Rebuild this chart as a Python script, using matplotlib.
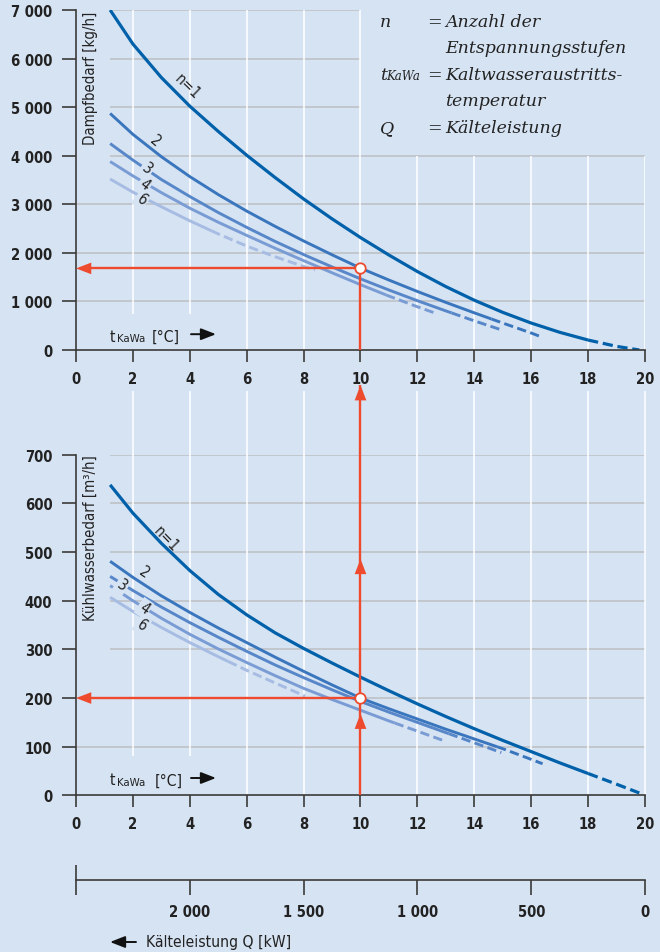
import os
import matplotlib
matplotlib.use('Agg')
import matplotlib.pyplot as plt
from matplotlib import font_manager as fm
from matplotlib.font_manager import FontProperties
import numpy as np

W, H, DPI = 660, 953, 100

# ---------------- data ----------------
x_ticks = [0, 2, 4, 6, 8, 10, 12, 14, 16, 18, 20]
steam_ticks = [0, 1000, 2000, 3000, 4000, 5000, 6000, 7000]
steam_labels = ["0", "1 000", "2 000", "3 000", "4 000", "5 000", "6 000", "7 000"]
cool_ticks = [0, 100, 200, 300, 400, 500, 600, 700]
cool_labels = ["0", "100", "200", "300", "400", "500", "600", "700"]
q_ticks = [2000, 1500, 1000, 500, 0]
q_labels = ["2 000", "1 500", "1 000", "500", "0"]
q_max = 2500  # Q at t = 0

# Dampfbedarf [kg/h]
t_n1 = [1.2, 2, 3, 4, 5, 6, 7, 8, 9, 10, 11, 12, 13, 14, 15, 16, 17, 18, 19, 19.8]
steam_n1 = [7000, 6300, 5610, 5020, 4500, 4010, 3550, 3110, 2700, 2315, 1955, 1615, 1305, 1025, 775, 555, 365, 205, 75, 0]
t_n2 = [1.2, 2, 3, 4, 5, 6, 7, 8, 9, 10, 11, 12, 13, 14, 15, 16, 16.4]
steam_n2 = [4870, 4440, 3980, 3570, 3200, 2860, 2545, 2245, 1960, 1685, 1440, 1205, 980, 765, 555, 350, 260]
t_n3 = [1.2, 2, 3, 4, 5, 6, 7, 8, 9, 10, 11, 12, 13, 14, 14.95]
steam_n3 = [4250, 3910, 3510, 3160, 2830, 2525, 2235, 1965, 1710, 1465, 1235, 1015, 805, 600, 415]
t_n4 = [1.2, 2, 3, 4, 5, 6, 7, 8, 9, 10, 11, 12, 12.67]
steam_n4 = [3880, 3585, 3240, 2920, 2630, 2360, 2095, 1840, 1590, 1345, 1110, 890, 750]
t_n6 = [1.2, 2, 3, 4, 5, 6, 7, 8, 8.4]
steam_n6 = [3520, 3250, 2950, 2660, 2390, 2140, 1920, 1720, 1650]
steam_dash_from = [18, 14.6, 13.2, 10.9, 4.76]

# Kühlwasserbedarf [m3/h]
cool_n1 = [638, 580, 518, 462, 413, 371, 334, 302, 272, 243, 215, 188, 162, 137, 113, 90, 67, 45, 23, 5]
cool_n2 = [481, 448, 410, 376, 344, 314, 284, 255, 227, 200, 178, 157, 136, 116, 96, 74, 65]
cool_n3 = [450, 421, 387, 355, 325, 296, 268, 242, 217, 193, 171, 150, 129, 108, 88]
t_n4b = [1.2, 2, 3, 4, 5, 6, 7, 8, 9, 10, 11, 12, 12.9]
cool_n4 = [431, 400, 364, 331, 301, 273, 246, 220, 197, 175, 153, 132, 113]
t_n6b = [1.2, 2, 3, 4, 5, 6, 7, 8.05]
cool_n6 = [407, 378, 345, 314, 285, 257, 231, 204]
cool_dash_from = [18, 14.8, 13.1, 11.2, 5.35]

n_names = ["n=1", "2", "3", "4", "6"]

# reading example
t_read = 10
steam_read = 1680
cool_read = 200

# ---------------- style ----------------
BG = '#D6E3F3'
AXC = '#3A3A3A'
TXT = '#222222'
RED = '#EE4B2E'
GRID = '#BDBFC4'
COLS = ['#0061AA', '#3A76BD', '#5787C9', '#7A9CD4', '#A7BCE3']
LWS = [2.3, 2.1, 2.1, 2.1, 2.1]


def find_font(keys):
    for k in keys:
        for f in fm.fontManager.ttflist:
            b = os.path.basename(f.fname).lower().replace('-', '').replace('_', '')
            if b == k:
                return f.fname
    return None


reg_path = find_font(['liberationsansnarrowregular.ttf', 'dejavusanscondensed.ttf'])
bold_path = find_font(['liberationsansnarrowbold.ttf', 'dejavusanscondensedbold.ttf'])
if reg_path and 'liberation' in reg_path.lower():
    FP_REG, FP_BOLD = FontProperties(fname=reg_path), FontProperties(fname=bold_path)
    TICK_FS, LAB_FS, CL_FS, SUB_FS = 11.8, 12.5, 12.5, 9.5
elif reg_path:
    FP_REG, FP_BOLD = FontProperties(fname=reg_path), FontProperties(fname=bold_path)
    TICK_FS, LAB_FS, CL_FS, SUB_FS = 10.6, 10.75, 11, 8.2
else:
    FP_REG = FontProperties(family='Liberation Sans')
    FP_BOLD = FontProperties(family='Liberation Sans', weight='bold')
    TICK_FS, LAB_FS, CL_FS, SUB_FS = 10.2, 11, 11, 8.2
SERIF = 'DejaVu Serif'
plt.rcParams['font.family'] = ['Liberation Sans', 'DejaVu Sans']

fig = plt.figure(figsize=(W / DPI, H / DPI), dpi=DPI)
fig.patch.set_facecolor(BG)


def axrect(x0, y0, x1, y1):
    return [x0 / W, 1 - y1 / H, (x1 - x0) / W, (y1 - y0) / H]


def ftext(x, y, s, **kw):
    return fig.text(x / W, 1 - y / H, s, **kw)


def farrow(x0, y0, x1, y1, color='#111111'):
    fig.add_artist(matplotlib.patches.FancyArrowPatch(
        (x0 / W, 1 - y0 / H), (x1 / W, 1 - y1 / H), transform=fig.transFigure,
        arrowstyle='-|>,head_length=0.9,head_width=0.35', mutation_scale=10,
        color=color, lw=1.4, shrinkA=0, shrinkB=0))


ax1 = fig.add_axes(axrect(76, 11, 645, 351))
ax2 = fig.add_axes(axrect(76, 455.7, 645, 796.4))


def style(ax, ymax, yticks, ylabels):
    ax.set_xlim(0, 20)
    ax.set_ylim(0, ymax)
    ax.set_facecolor('none')
    for s in ['top', 'right']:
        ax.spines[s].set_visible(False)
    for s in ['left', 'bottom']:
        ax.spines[s].set_color(AXC)
        ax.spines[s].set_linewidth(1.2)
        ax.spines[s].set_zorder(5)
    ax.set_xticks(x_ticks)
    ax.set_xticklabels([str(v) for v in x_ticks])
    ax.set_yticks(yticks)
    ax.set_yticklabels(ylabels)
    ax.tick_params(axis='y', direction='out', length=10, width=1.2, color=AXC, pad=7)
    ax.tick_params(axis='x', direction='out', length=8.6, width=1.2, color=AXC, pad=6.5)
    for lab in ax.get_xticklabels() + ax.get_yticklabels():
        lab.set_fontproperties(FP_BOLD)
        lab.set_fontsize(TICK_FS)
        lab.set_color(TXT)


style(ax1, steam_ticks[-1], steam_ticks, steam_labels)
style(ax2, cool_ticks[-1], cool_ticks, cool_labels)

# grid lines (top)
gkw = dict(color=GRID, lw=1.1, zorder=1)
wkw = dict(color='white', lw=1.1, zorder=1)
for v in steam_ticks[1:4]:
    ax1.hlines(v, 0, 20, **gkw)
ax1.hlines(steam_ticks[4], 1.2, 20, **gkw)
for v in steam_ticks[5:]:
    ax1.hlines(v, 1.2, 10, **gkw)
for x in x_ticks[1:3]:
    ax1.vlines(x, 750, 7000, **wkw)
for x in x_ticks[3:6]:
    ax1.vlines(x, 0, 7000, **wkw)
for x in x_ticks[6:]:
    ax1.vlines(x, 0, 4000, **wkw)

# grid lines (bottom)
for v in cool_ticks[1:3]:
    ax2.hlines(v, 0, 20, **gkw)
for v in cool_ticks[3:]:
    ax2.hlines(v, 1.2, 20, **gkw)
for x in x_ticks[1:3]:
    ax2.vlines(x, 80, 830, clip_on=False, **wkw)
for x in x_ticks[3:]:
    ax2.vlines(x, 0, 830, clip_on=False, **wkw)


def curve(ax, t, v, ts, col, lw):
    t = np.asarray(t, float)
    v = np.asarray(v, float)
    vb = np.interp(ts, t, v)
    m1 = t < ts
    m2 = t > ts
    ax.plot(np.r_[t[m1], ts], np.r_[v[m1], vb], color=col, lw=lw, zorder=3,
            solid_capstyle='butt', solid_joinstyle='round')
    ax.plot(np.r_[ts, t[m2]], np.r_[vb, v[m2]], color=col, lw=lw, zorder=3,
            ls=(0, (3.2, 1.5)), dash_capstyle='butt')


steam_t = [t_n1, t_n2, t_n3, t_n4, t_n6]
steam_v = [steam_n1, steam_n2, steam_n3, steam_n4, steam_n6]
cool_t = [t_n1, t_n2, t_n3, t_n4b, t_n6b]
cool_v = [cool_n1, cool_n2, cool_n3, cool_n4, cool_n6]
for i in range(5):
    curve(ax1, steam_t[i], steam_v[i], steam_dash_from[i], COLS[i], LWS[i])
    curve(ax2, cool_t[i], cool_v[i], cool_dash_from[i], COLS[i], LWS[i])

# curve labels
lab_top = [(3.91, 5438, -44), (2.80, 4325, -40), (2.51, 3741, -38), (2.42, 3416, -38), (2.31, 3107, -38)]
lab_bot = [(3.15, 528, -46), (2.39, 459, -35), (1.62, 432, -35), (2.39, 385, -35), (2.32, 350, -35)]
for ax, labs in [(ax1, lab_top), (ax2, lab_bot)]:
    for i, (x, y, r) in enumerate(labs):
        kw = {}
        if i >= 2:
            kw['bbox'] = dict(boxstyle='square,pad=0.12', fc=BG, ec='none')
        ax.text(x, y, n_names[i], rotation=r, rotation_mode='anchor', ha='center', va='center',
                fontproperties=FP_REG, fontsize=CL_FS, color=TXT, zorder=4, **kw)

# red reading lines
rkw = dict(color=RED, lw=1.7, zorder=6, solid_capstyle='butt')
ax1.plot([t_read, t_read], [0, steam_read], **rkw)
ax1.plot([t_read, 0.5], [steam_read, steam_read], **rkw)
ax2.plot([t_read, t_read], [0, 843], clip_on=False, **rkw)
ax2.plot([t_read, 0.5], [cool_read, cool_read], **rkw)


def head(ax, x, y, dx, dy):
    ax.annotate('', xy=(x, y), xytext=(x - dx, y - dy),
                arrowprops=dict(arrowstyle='-|>,head_length=1.1,head_width=0.42', mutation_scale=10,
                                color=RED, lw=0, shrinkA=0, shrinkB=0),
                annotation_clip=False, zorder=7)


head(ax1, 0, steam_read, -0.8, 0)
head(ax2, 0, cool_read, -0.8, 0)
for tip in [843, 486, 168]:
    head(ax2, t_read, tip, 0, 45)

ax1.plot([t_read], [steam_read], 'o', ms=7.5, mfc='white', mec=RED, mew=1.3, zorder=8)
ax2.plot([t_read], [cool_read], 'o', ms=7.5, mfc='white', mec=RED, mew=1.3, zorder=8)

# axis titles
ftext(90, 12, 'Dampfbedarf [kg/h]', rotation=90, ha='center', va='top', fontproperties=FP_REG,
      fontsize=LAB_FS, color=TXT)
ftext(90, 455, 'Kühlwasserbedarf [m³/h]', rotation=90, ha='center', va='top', fontproperties=FP_REG,
      fontsize=LAB_FS, color=TXT)

for yb, xc in [(341.7, 152), (785.5, 155)]:
    ftext(110, yb, 't', ha='left', va='baseline', fontproperties=FP_REG, fontsize=LAB_FS + 0.5, color=TXT)
    ftext(116.5, yb + 0.5, 'KaWa', ha='left', va='baseline', fontproperties=FP_REG, fontsize=SUB_FS, color=TXT)
    ftext(xc, yb, '[°C]', ha='left', va='baseline', fontproperties=FP_REG, fontsize=LAB_FS + 0.5, color=TXT)
    farrow(191, yb - 6.5, 216, yb - 6.5)

# legend block
LS = 12.5
sk = dict(family=SERIF, style='italic', fontsize=LS, color=TXT, ha='left', va='baseline')
ek = dict(family=SERIF, fontsize=LS, color=TXT, ha='left', va='baseline')
ftext(380, 27.3, 'n', **sk)
ftext(426.7, 27.3, '=', **ek)
ftext(445, 27.3, 'Anzahl der', **sk)
ftext(445, 53.3, 'Entspannungsstufen', **sk)
ftext(380, 80, 't', **sk)
ftext(386.5, 80.5, 'KaWa', **dict(sk, fontsize=8.5))
ftext(426.7, 80, '=', **ek)
ftext(445, 80, 'Kaltwasseraustritts-', **sk)
ftext(445, 106, 'temperatur', **sk)
ftext(380, 133, 'Q', **sk)
ftext(426.7, 133, '=', **ek)
ftext(445, 133, 'Kälteleistung', **sk)

# Q axis
ax3 = fig.add_axes(axrect(76, 870, 645, 880.7))
ax3.set_facecolor('none')
for s in ['top', 'right', 'left']:
    ax3.spines[s].set_visible(False)
ax3.spines['bottom'].set_color(AXC)
ax3.spines['bottom'].set_linewidth(1.2)
ax3.set_yticks([])
ax3.set_xlim(q_max, 0)
ax3.set_xticks(q_ticks)
ax3.set_xticklabels(q_labels)
ax3.set_xticks([q_max, 0], minor=True)
ax3.tick_params(axis='x', which='major', direction='out', length=10.8, width=1.2, color=AXC, pad=7)
ax3.tick_params(axis='x', which='minor', direction='inout', length=21, width=1.2, color=AXC)
for lab in ax3.get_xticklabels():
    lab.set_fontproperties(FP_BOLD)
    lab.set_fontsize(TICK_FS)
    lab.set_color(TXT)

farrow(136, 943, 110, 943)
ftext(146, 943, 'Kälteleistung Q [kW]', ha='left', va='center', fontproperties=FP_REG,
      fontsize=LAB_FS + 0.5, color=TXT)

fig.savefig('out.png', dpi=DPI, facecolor=BG)
